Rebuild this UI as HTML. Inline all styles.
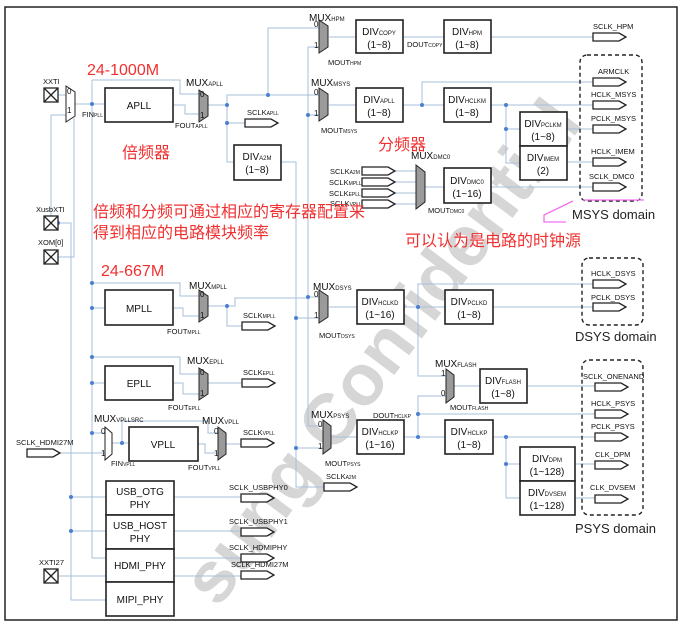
<!DOCTYPE html>
<html><head><meta charset="utf-8"><style>
html,body{margin:0;padding:0;background:#fff;width:682px;height:624px;overflow:hidden;}
svg{display:block;font-family:"Liberation Sans","Noto Sans CJK SC",sans-serif;overflow:hidden}
.l{stroke:#a9bfdc;stroke-width:1;fill:none}
.b{fill:#fff;stroke:#222;stroke-width:1.6}
.m{fill:#9a9a9a;stroke:#222;stroke-width:1}
.a{fill:#fff;stroke:#222;stroke-width:1.3}
.d{fill:none;stroke:#222;stroke-width:1.4;stroke-dasharray:4 3}
.s{font-size:7.5px;fill:#111}
.t{font-size:10px;fill:#111;text-anchor:middle}
.mx{font-size:10px;fill:#111}
.r{fill:#f03030;font-size:16px}
.dot{fill:#4a7fd0}
.p{fill:#fff;stroke:#222;stroke-width:1.3}
</style></head><body>
<svg width="682" height="624" viewBox="0 0 682 624">
<rect x="5" y="7" width="672" height="613" fill="#fff" stroke="#222" stroke-width="1.5"/>
<text x="218" y="609" transform="rotate(-53 218 609)" font-size="72" font-weight="bold" fill="#d6d6d6">sung Confidential</text>

<!-- lines -->
<g class="l">
<path d="M58 95H66M51 115H66M51 115V216M58 223H71V600H106M71 497H106M71 531H106M58 257H74V118"/>
<path d="M75 104H105M92 80V558H106M92 80H180V94H199M92 283H180V296H199M92 308H105M92 357H180V374H199M92 383H105M92 433H105"/>
<path d="M173 105H185V114H199M173 308H183V316H199M173 383H183V394H199"/>
<path d="M208 105H227V162H234M227 123H245M227 105V95H319M268 95V28H319M308 47H319M308 47V426H323M308 115H319M308 297H319"/>
<path d="M281 162H296V487H324M296 318H319M296 448H323"/>
<path d="M208 306H227V326H242M227 306H235V298H308M208 383H242"/>
<path d="M60 453H105M112 443H129M122 443V421H208V433H218M198 444H205V453H218M225 444H241"/>
<path d="M329 37H356M403 37H444M491 37H593"/>
<path d="M329 105H356M403 105H444M422 105V82H593M491 105H593M506 105V163H520M506 129H520M567 129H593M567 162H593"/>
<path d="M395 171H416M395 182H416M395 193H416M395 204H416M425 187H444M491 187H593"/>
<path d="M329 307H357M404 307H445M418 307V284H593M418 307V376H446M493 307H593"/>
<path d="M330 437H357M404 437H445M418 437V396H446M418 414H595M453 386H480M527 386H595M493 437H595M506 437V498H520M506 464H520M575 464H595M575 498H595"/>
<path d="M174 497H241M174 531H241M174 558H241M58 576H241"/>
</g>
<g class="dot">
<circle cx="92" cy="104" r="2"/><circle cx="92" cy="283" r="2"/><circle cx="92" cy="308" r="2"/><circle cx="92" cy="357" r="2"/><circle cx="92" cy="383" r="2"/><circle cx="92" cy="433" r="2"/>
<circle cx="71" cy="497" r="2"/><circle cx="71" cy="531" r="2"/><circle cx="58" cy="223" r="2"/>
<circle cx="227" cy="105" r="2"/><circle cx="227" cy="123" r="2"/><circle cx="268" cy="95" r="2"/><circle cx="308" cy="115" r="2"/><circle cx="308" cy="297" r="2"/>
<circle cx="296" cy="318" r="2"/><circle cx="296" cy="448" r="2"/><circle cx="227" cy="306" r="2"/><circle cx="122" cy="443" r="2"/>
<circle cx="422" cy="105" r="2"/><circle cx="506" cy="105" r="2"/><circle cx="506" cy="129" r="2"/>
<circle cx="418" cy="307" r="2"/><circle cx="418" cy="437" r="2"/><circle cx="418" cy="414" r="2"/><circle cx="506" cy="437" r="2"/><circle cx="506" cy="464" r="2"/>
</g>

<!-- pads -->
<g class="p">
<rect x="44" y="88" width="14" height="14"/><path d="M44 88L58 102M58 88L44 102"/>
<rect x="44" y="216" width="14" height="14"/><path d="M44 216L58 230M58 216L44 230"/>
<rect x="44" y="250" width="14" height="14"/><path d="M44 250L58 264M58 250L44 264"/>
<rect x="44" y="569" width="14" height="14"/><path d="M44 569L58 583M58 569L44 583"/>
</g>

<!-- muxes -->
<g class="m">
<polygon points="66,86 75,92 75,116 66,122" fill="#fff"/>
<polygon points="199,90 208,96 208,116 199,122"/>
<polygon points="199,290 208,296 208,316 199,322"/>
<polygon points="199,368 208,374 208,394 199,400"/>
<polygon points="105,427 112,433 112,454 105,460" fill="#fff"/>
<polygon points="218,427 226,433 226,454 218,460"/>
<polygon points="319,20 328,26 328,47 319,53"/>
<polygon points="319,88 328,94 328,115 319,121"/>
<polygon points="319,290 328,296 328,317 319,323"/>
<polygon points="323,420 331,426 331,448 323,454"/>
<polygon points="446,369 454,375 454,397 446,403"/>
<polygon points="416,165 425,172 425,202 416,209"/>
</g>

<!-- boxes -->
<g class="b">
<rect x="105" y="88" width="68" height="34"/><rect x="105" y="290" width="68" height="35"/><rect x="105" y="366" width="68" height="34"/><rect x="129" y="427" width="69" height="34"/>
<rect x="234" y="145" width="47" height="35"/><rect x="356" y="20" width="47" height="33"/><rect x="444" y="20" width="47" height="33"/>
<rect x="356" y="88" width="47" height="34"/><rect x="444" y="88" width="47" height="34"/><rect x="520" y="112" width="47" height="34"/><rect x="520" y="146" width="47" height="34"/>
<rect x="444" y="168" width="47" height="35"/><rect x="357" y="290" width="47" height="34"/><rect x="445" y="290" width="48" height="34"/>
<rect x="480" y="369" width="47" height="34"/><rect x="357" y="420" width="47" height="34"/><rect x="445" y="420" width="48" height="34"/>
<rect x="520" y="447" width="55" height="34"/><rect x="520" y="481" width="55" height="34"/>
<rect x="106" y="481" width="68" height="34"/><rect x="106" y="515" width="68" height="34"/><rect x="106" y="549" width="68" height="33"/><rect x="106" y="582" width="68" height="34"/>
</g>
<rect class="d" x="580" y="55" width="62" height="146" rx="7"/>
<rect class="d" x="582" y="258" width="61" height="67" rx="7"/>
<rect class="d" x="582" y="360" width="61" height="155" rx="7"/>

<!-- arrows -->
<g class="a">
<polygon points="593,33 619,33 626,37 619,41 593,41"/>
<polygon points="593,78 619,78 626,82 619,86 593,86"/>
<polygon points="593,101 619,101 626,105 619,109 593,109"/>
<polygon points="593,125 619,125 626,129 619,133 593,133"/>
<polygon points="593,158 619,158 626,162 619,166 593,166"/>
<polygon points="593,183 619,183 626,187 619,191 593,191"/>
<polygon points="593,280 619,280 626,284 619,288 593,288"/>
<polygon points="593,303 619,303 626,307 619,311 593,311"/>
<polygon points="595,383 621,383 628,387 621,391 595,391"/>
<polygon points="595,410 621,410 628,414 621,418 595,418"/>
<polygon points="595,433 621,433 628,437 621,441 595,441"/>
<polygon points="595,461 621,461 628,465 621,469 595,469"/>
<polygon points="595,495 621,495 628,499 621,503 595,503"/>
<polygon points="245,119 271,119 278,123 271,127 245,127"/>
<polygon points="242,322 268,322 275,326 268,330 242,330"/>
<polygon points="242,379 268,379 275,383 268,387 242,387"/>
<polygon points="241,439 267,439 274,443 267,447 241,447"/>
<polygon points="324,483 350,483 357,487 350,491 324,491"/>
<polygon points="241,494 267,494 274,498 267,502 241,502"/>
<polygon points="241,528 267,528 274,532 267,536 241,536"/>
<polygon points="241,554 267,554 274,558 267,562 241,562"/>
<polygon points="241,571 267,571 274,575 267,579 241,579"/>
<polygon points="27,449 53,449 60,453 53,457 27,457"/>
<polygon points="362,167 388,167 395,171 388,175 362,175"/>
<polygon points="362,178 388,178 395,182 388,186 362,186"/>
<polygon points="362,189 388,189 395,193 388,197 362,197"/>
<polygon points="362,200 388,200 395,204 388,208 362,208"/>
</g>

<!-- pink -->
<g stroke="#f070f0" stroke-width="1.3" fill="none"><path d="M583 200H644M573 201L544 215V222H566"/></g>

<!-- texts -->
<g class="s">
<text x="43" y="84">XXTI</text><text x="36" y="212">XusbXTI</text><text x="38" y="245">XOM[0]</text><text x="39" y="565">XXTI27</text>
<text x="67" y="94" font-size="8">0</text><text x="67" y="113" font-size="8">1</text>
<text x="82" y="117">FIN<tspan font-size="5">PLL</tspan></text>
<text x="175" y="128">FOUT<tspan font-size="5">APLL</tspan></text>
<text x="167" y="334">FOUT<tspan font-size="5">MPLL</tspan></text>
<text x="168" y="410">FOUT<tspan font-size="5">EPLL</tspan></text>
<text x="188" y="470">FOUT<tspan font-size="5">VPLL</tspan></text>
<text x="111" y="466">FIN<tspan font-size="5">VPLL</tspan></text>
<text x="247" y="115">SCLK<tspan font-size="5">APLL</tspan></text>
<text x="243" y="318">SCLK<tspan font-size="5">MPLL</tspan></text>
<text x="243" y="375">SCLK<tspan font-size="5">EPLL</tspan></text>
<text x="243" y="435">SCLK<tspan font-size="5">VPLL</tspan></text>
<text x="326" y="479">SCLK<tspan font-size="5">A2M</tspan></text>
<text x="229" y="490">SCLK_USBPHY0</text><text x="229" y="524">SCLK_USBPHY1</text><text x="229" y="550">SCLK_HDMIPHY</text><text x="231" y="567">SCLK_HDMI27M</text>
<text x="16" y="445">SCLK_HDMI27M</text>
<text x="328" y="65">MOUT<tspan font-size="5">HPM</tspan></text>
<text x="321" y="133">MOUT<tspan font-size="5">MSYS</tspan></text>
<text x="319" y="338">MOUT<tspan font-size="5">DSYS</tspan></text>
<text x="325" y="466">MOUT<tspan font-size="5">PSYS</tspan></text>
<text x="450" y="410">MOUT<tspan font-size="5">FLASH</tspan></text>
<text x="428" y="213">MOUT<tspan font-size="5">DMC0</tspan></text>
<text x="407" y="47">DOUT<tspan font-size="5">COPY</tspan></text>
<text x="373" y="418">DOUT<tspan font-size="5">HCLKP</tspan></text>
<text x="330" y="174">SCLK<tspan font-size="5">A2M</tspan></text>
<text x="329" y="185">SCLK<tspan font-size="5">MPLL</tspan></text>
<text x="329" y="196">SCLK<tspan font-size="5">EPLL</tspan></text>
<text x="330" y="206">SCLK<tspan font-size="5">VPLL</tspan></text>
<text x="593" y="29">SCLK_HPM</text><text x="598" y="74">ARMCLK</text><text x="591" y="97">HCLK_MSYS</text><text x="591" y="121">PCLK_MSYS</text><text x="591" y="154">HCLK_IMEM</text><text x="589" y="179">SCLK_DMC0</text>
<text x="591" y="276">HCLK_DSYS</text><text x="591" y="300">PCLK_DSYS</text>
<text x="583" y="379">SCLK_ONENAND</text><text x="591" y="406">HCLK_PSYS</text><text x="591" y="429">PCLK_PSYS</text><text x="595" y="457">CLK_DPM</text><text x="590" y="490">CLK_DVSEM</text>
<g font-size="8"><text x="200" y="97">0</text><text x="200" y="118">1</text><text x="200" y="297">0</text><text x="200" y="318">1</text><text x="200" y="375">0</text><text x="200" y="396">1</text>
<text x="101" y="434">0</text><text x="101" y="456">1</text><text x="214" y="434">0</text><text x="214" y="456">1</text>
<text x="314" y="27">0</text><text x="314" y="48">1</text><text x="314" y="95">0</text><text x="314" y="116">1</text><text x="314" y="297">0</text><text x="314" y="318">1</text>
<text x="318" y="427">0</text><text x="318" y="449">1</text><text x="441" y="376">1</text><text x="441" y="396">0</text></g>
</g>
<g class="mx">
<text x="186" y="86">MUX<tspan font-size="6">APLL</tspan></text>
<text x="189" y="289">MUX<tspan font-size="6">MPLL</tspan></text>
<text x="187" y="364">MUX<tspan font-size="6">EPLL</tspan></text>
<text x="94" y="422">MUX<tspan font-size="6">VPLLSRC</tspan></text>
<text x="202" y="424">MUX<tspan font-size="6">VPLL</tspan></text>
<text x="309" y="21">MUX<tspan font-size="6">HPM</tspan></text>
<text x="311" y="86">MUX<tspan font-size="6">MSYS</tspan></text>
<text x="313" y="290">MUX<tspan font-size="6">DSYS</tspan></text>
<text x="311" y="418">MUX<tspan font-size="6">PSYS</tspan></text>
<text x="435" y="367">MUX<tspan font-size="6">FLASH</tspan></text>
<text x="411" y="159">MUX<tspan font-size="6">DMC0</tspan></text>
</g>
<g class="t">
<text x="139" y="109">APLL</text><text x="139" y="312">MPLL</text><text x="139" y="387">EPLL</text><text x="163" y="448">VPLL</text>
<text x="140" y="495">USB_OTG</text><text x="140" y="508">PHY</text><text x="140" y="529">USB_HOST</text><text x="140" y="542">PHY</text>
<text x="140" y="569">HDMI_PHY</text><text x="140" y="603">MIPI_PHY</text>
<text x="257" y="160">DIV<tspan font-size="6">A2M</tspan></text><text x="257" y="173">(1~8)</text>
<text x="379" y="35">DIV<tspan font-size="6">COPY</tspan></text><text x="379" y="48">(1~8)</text>
<text x="467" y="35">DIV<tspan font-size="6">HPM</tspan></text><text x="467" y="48">(1~8)</text>
<text x="379" y="103">DIV<tspan font-size="6">APLL</tspan></text><text x="379" y="116">(1~8)</text>
<text x="467" y="103">DIV<tspan font-size="6">HCLKM</tspan></text><text x="467" y="116">(1~8)</text>
<text x="543" y="127">DIV<tspan font-size="6">PCLKM</tspan></text><text x="543" y="140">(1~8)</text>
<text x="543" y="161">DIV<tspan font-size="6">IMEM</tspan></text><text x="543" y="174">(2)</text>
<text x="467" y="184">DIV<tspan font-size="6">DMC0</tspan></text><text x="467" y="197">(1~16)</text>
<text x="380" y="305">DIV<tspan font-size="6">HCLKD</tspan></text><text x="380" y="318">(1~16)</text>
<text x="469" y="305">DIV<tspan font-size="6">PCLKD</tspan></text><text x="469" y="318">(1~8)</text>
<text x="503" y="384">DIV<tspan font-size="6">FLASH</tspan></text><text x="503" y="397">(1~8)</text>
<text x="380" y="435">DIV<tspan font-size="6">HCLKP</tspan></text><text x="380" y="448">(1~16)</text>
<text x="469" y="435">DIV<tspan font-size="6">HCLKP</tspan></text><text x="469" y="448">(1~8)</text>
<text x="547" y="462">DIV<tspan font-size="6">DPM</tspan></text><text x="547" y="475">(1~128)</text>
<text x="547" y="496">DIV<tspan font-size="6">DVSEM</tspan></text><text x="547" y="509">(1~128)</text>
</g>
<g font-size="13" fill="#222"><text x="572" y="219">MSYS domain</text><text x="575" y="341">DSYS domain</text><text x="575" y="533">PSYS domain</text></g>
<g class="r">
<text x="87" y="75">24-1000M</text><text x="101" y="276">24-667M</text>
<text x="122" y="158">倍频器</text><text x="378" y="150">分频器</text>
<text x="93" y="217">倍频和分频可通过相应的寄存器配置来</text>
<text x="93" y="238">得到相应的电路模块频率</text>
<text x="405" y="246">可以认为是电路的时钟源</text>
</g>
</svg>
</body></html>
